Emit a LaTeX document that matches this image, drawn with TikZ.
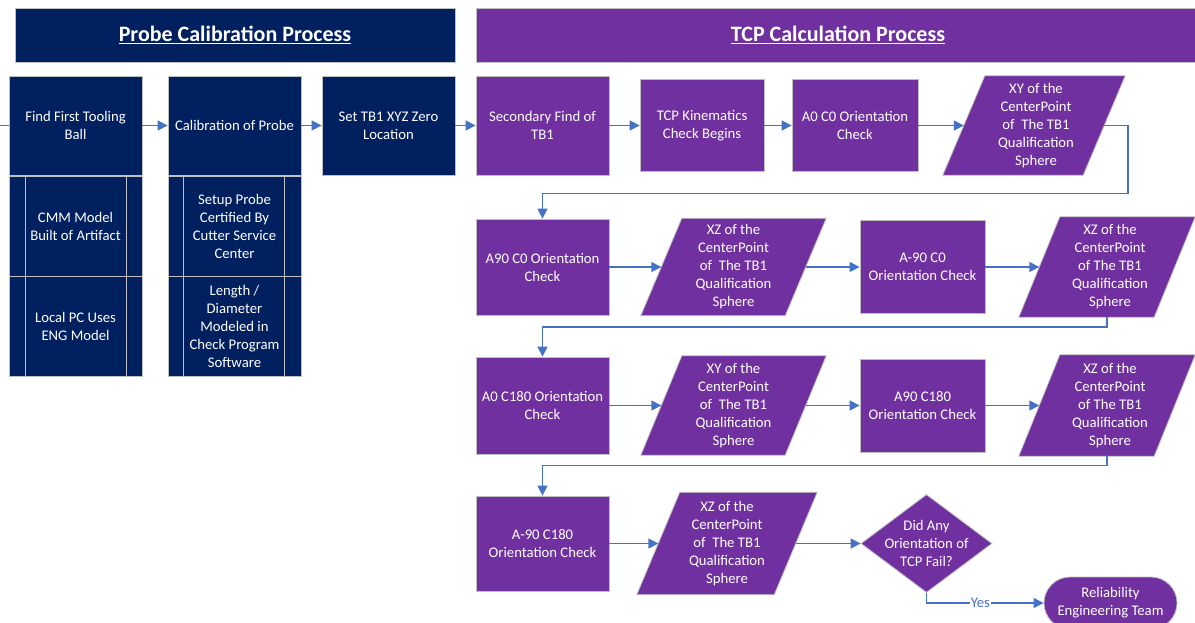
\documentclass[tikz,border=0pt]{standalone}
\usepackage{fontspec}
\setmainfont{Carlito}
\usetikzlibrary{shapes.geometric,arrows.meta,calc}
\definecolor{navy}{HTML}{002060}
\definecolor{purp}{HTML}{7030A0}
\definecolor{arrblue}{HTML}{4472C4}
\definecolor{edgegray}{HTML}{BFBFBF}
% parallelogram drawn inside the bounding rectangle of node #1, slant #2
\newcommand\paraframe[2]{%
  \filldraw[pbox] (#1.south west) -- ($(#1.north west)+(#2,0)$) -- (#1.north east) -- ($(#1.south east)+(-#2,0)$) -- cycle;
  \coordinate (#1w) at ($(#1.west)+(#2/2,0)$);
  \coordinate (#1e) at ($(#1.east)+(-#2/2,0)$);}
\begin{document}
\begin{tikzpicture}[x=1pt,y=-1pt,
  every node/.style={font=\fontsize{14.7}{18}\selectfont, text=white, align=center, inner sep=0pt},
  nbox/.style={draw=edgegray, line width=0.8pt, fill=navy, minimum width=133pt, minimum height=99pt},
  pbox/.style={draw=edgegray, line width=0.8pt, fill=purp},
  pframe/.style={draw=none, fill=none},
  ttl/.style={draw=edgegray, line width=0.8pt, minimum height=54pt, font=\bfseries\fontsize{22}{26}\selectfont},
  arr/.style={draw=arrblue, line width=1.5pt, -{Triangle[length=10pt,width=10pt]}},
  inner/.style={draw=edgegray, line width=0.8pt}
]
\useasboundingbox (0,0) rectangle (1195,623);
\fill[white] (0,0) rectangle (1195,623);
\clip (0,0) rectangle (1195,623);

% titles
\node[ttl, fill=navy, minimum width=440pt] (t1) at (235,35) {\underline{Probe Calibration Process}};
\node[ttl, fill=purp, minimum width=724pt] (t2) at (838,35) {\underline{TCP Calculation Process}};

% probe calibration column 1
\node[nbox] (ffb) at (75.5,125.5) {Find First Tooling\\Ball};
\node[nbox, minimum height=100pt] (cmm) at (75.5,226) {CMM Model\\Built of Artifact};
\node[nbox, minimum height=100pt] (pc) at (75.5,326) {Local PC Uses\\ENG Model};
\draw[inner] ($(cmm.north west)+(17,0)$) -- ($(pc.south west)+(17,0)$);
\draw[inner] ($(cmm.north east)+(-16,0)$) -- ($(pc.south east)+(-16,0)$);

% column 2
\node[nbox] (cal) at (234.5,125.5) {Calibration of Probe};
\node[nbox, minimum height=100pt] (setup) at (234.5,226) {Setup Probe\\Certified By\\Cutter Service\\Center};
\node[nbox, minimum height=100pt] (len) at (234.5,326) {Length /\\Diameter\\Modeled in\\Check Program\\Software};
\draw[inner] ($(setup.north west)+(16,0)$) -- ($(len.south west)+(16,0)$);
\draw[inner] ($(setup.north east)+(-17,0)$) -- ($(len.south east)+(-17,0)$);

% column 3
\node[nbox] (set) at (388.5,125.5) {Set TB1 XYZ Zero\\Location};

% row 1
\node[pbox, minimum width=133pt, minimum height=99pt] (sec) at (542.5,125.5) {Secondary Find of\\TB1};
\node[pbox, minimum width=124pt, minimum height=92pt] (kin) at (702,125.5) {TCP Kinematics\\Check Begins};
\node[pbox, minimum width=126pt, minimum height=92pt] (a0c0) at (855,125.5) {A0 C0 Orientation\\Check};
\node[pframe, minimum width=182pt, minimum height=99pt] (p1) at (1034,125.5) {};
\paraframe{p1}{42}
\node (p1t) at (1036,125.5) {XY of the\\CenterPoint\\of~ The TB1\\Qualification\\Sphere};

% row 2
\node[pbox, minimum width=133pt, minimum height=96pt] (a90c0) at (542.5,267) {A90 C0 Orientation\\Check};
\node[pframe, minimum width=185pt, minimum height=97pt] (p2) at (733.5,267) {};
\paraframe{p2}{41}
\node (p2t) at (p2.center) {XZ of the\\CenterPoint\\of~ The TB1\\Qualification\\Sphere};
\node[pbox, minimum width=125pt, minimum height=93pt] (am90c0) at (922.5,267) {A-90 C0\\Orientation Check};
\node[pframe, minimum width=176pt, minimum height=100pt] (p3) at (1107,267) {};
\paraframe{p3}{41}
\node (p3t) at (1110,267) {XZ of the\\CenterPoint\\of The TB1\\Qualification\\Sphere};

% row 3
\node[pbox, minimum width=133pt, minimum height=97pt] (a0c180) at (542.5,405.5) {A0 C180 Orientation\\Check};
\node[pframe, minimum width=185pt, minimum height=99pt] (p4) at (733.5,405.5) {};
\paraframe{p4}{41}
\node (p4t) at (p4.center) {XY of the\\CenterPoint\\of~ The TB1\\Qualification\\Sphere};
\node[pbox, minimum width=125pt, minimum height=93pt] (a90c180) at (922.5,405.5) {A90 C180\\Orientation Check};
\node[pframe, minimum width=176pt, minimum height=101pt] (p5) at (1107,405.5) {};
\paraframe{p5}{41}
\node (p5t) at (1110,405.5) {XZ of the\\CenterPoint\\of The TB1\\Qualification\\Sphere};

% row 4
\node[pbox, minimum width=133pt, minimum height=95pt] (am90c180) at (542.5,543.5) {A-90 C180\\Orientation Check};
\node[pframe, minimum width=180pt, minimum height=102pt] (p6) at (727,543.5) {};
\paraframe{p6}{43}
\node (p6t) at (p6.center) {XZ of the\\CenterPoint\\of~ The TB1\\Qualification\\Sphere};
\node[pbox, diamond, minimum width=131pt, minimum height=98pt] (dia) at (926.5,543.5) {};
\node (diat) at (dia.center) {Did Any\\Orientation of\\TCP Fail?};
\node[pbox, rounded corners=26pt, minimum width=133pt, minimum height=52pt] (rel) at (1110.5,603) {Reliability\\Engineering Team};

% connectors
\coordinate (in0) at (0,125.5);
\draw[draw=arrblue, line width=1pt] (in0) -- (ffb.west);
\draw[arr] (ffb.east) -- (cal.west);
\draw[arr] (cal.east) -- (set.west);
\draw[arr] (set.east) -- (sec.west);
\draw[arr] (sec.east) -- (kin.west);
\draw[arr] (kin.east) -- (a0c0.west);
\draw[arr] (a0c0.east) -- (p1w);
\draw[arr] (p1e) -- ++(24,0) -- ++(0,68) -| (a90c0.north);
\draw[arr] (a90c0.east) -- (p2w);
\draw[arr] (p2e) -- (am90c0.west);
\draw[arr] (am90c0.east) -- (p3w);
\draw[arr] (p3.south) -- ++(0,10) -| (a0c180.north);
\draw[arr] (a0c180.east) -- (p4w);
\draw[arr] (p4e) -- (a90c180.west);
\draw[arr] (a90c180.east) -- (p5w);
\draw[arr] (p5.south) -- ++(0,9.5) -| (am90c180.north);
\draw[arr] (am90c180.east) -- (p6w);
\draw[arr] (p6e) -- (dia.west);
\draw[arr] (dia.south) |- node[pos=0.73, fill=white, text=arrblue, inner sep=1pt] (yes) {Yes} (rel.west);
\end{tikzpicture}
\end{document}
